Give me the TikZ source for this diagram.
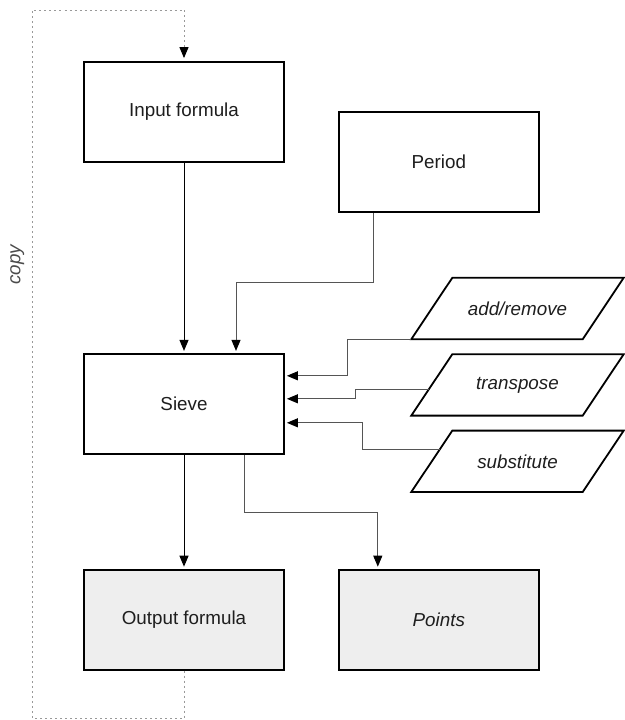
\documentclass[tikz,border=0pt]{standalone}
\usepackage{fontspec}
\setmainfont{Liberation Sans}
\usetikzlibrary{arrows.meta,positioning,calc}
\definecolor{ink}{HTML}{1E1E1E}
\definecolor{shade}{HTML}{EEEEEE}
\definecolor{wire}{HTML}{555555}
\definecolor{dots}{HTML}{999999}

\begin{document}
\begin{tikzpicture}[x=1pt,y=-1pt,
 box/.style={draw=black,fill=white,line width=1.8pt,minimum width=200pt,minimum height=100pt,font=\fontsize{18.8}{22}\selectfont,text=ink},
 outbox/.style={box,fill=shade},
 param/.style={minimum width=130pt,minimum height=61pt,inner sep=0pt,font=\fontsize{18.8}{22}\selectfont\itshape,text=ink},
 slant/.style={draw=black,line width=1.8pt,line join=miter},
 arr/.style={-{Triangle[length=11pt,width=9pt,color=black]},draw=black,line width=1pt,shorten >=2pt},
 elbow/.style={arr,draw=wire},
 copyline/.style={-{Triangle[length=11pt,width=9pt,color=black]},draw=dots,line width=1pt,dash pattern=on 2pt off 3pt,shorten >=3pt}]
\useasboundingbox (0,0) rectangle (624,720);
\node[box] (input) at (184,112) {Input formula};
\node[box,right=53pt of input,yshift=-50pt] (period) {Period};
\node[box,below=190pt of input] (sieve) {Sieve};
\node[outbox,below=114pt of sieve] (output) {Output formula};
\node[outbox,right=53pt of output,font=\fontsize{18.8}{22}\selectfont\itshape] (points) {Points};
\node[param] (addrm) at (517.5,308.5) {add/remove};
\node[param,below=15pt of addrm] (trans) {transpose};
\node[param,below=15pt of trans] (subst) {substitute};
% slanted outlines of the operations
\foreach \n in {addrm,trans,subst}{
  \coordinate (\n-bl) at ([xshift=-41pt]\n.south west);
  \coordinate (\n-tr) at ([xshift=41pt]\n.north east);
  \draw[slant] (\n-bl) -- (\n.north west) -- (\n-tr) -- (\n.south east) -- cycle;
}
\coordinate (lb) at (32,718);
\coordinate (lt) at (32,10);
% main flow
\draw[arr] (input)--(sieve);\draw[arr] (sieve)--(output);
\draw[elbow] ([xshift=-65pt]period.south) -- ++(0,70) -| ([xshift=52pt]sieve.north);
\draw[elbow] ([xshift=60pt]sieve.south) -- ++(0,58) -| ([xshift=-61pt]points.north);
% operations into the sieve
\draw[elbow] (addrm-bl) -- ++(-64,0) |- ([yshift=28pt]sieve.east);
\draw[elbow] ($(trans-bl)!.43!(trans.north west)$) -- ++(-73,0) |- ([yshift=5pt]sieve.east);
\draw[elbow] ($(subst-bl)!.7!(subst.north west)$) -- ++(-78,0) |- ([yshift=-19pt]sieve.east);
% copy loop
\draw[copyline] (output.south) |- (lb) -- node[pos=.64,above=4pt,sloped,font=\fontsize{18.8}{22}\selectfont\itshape,text=ink!80] {copy} (lt) -| (input.north);
\end{tikzpicture}
\end{document}
